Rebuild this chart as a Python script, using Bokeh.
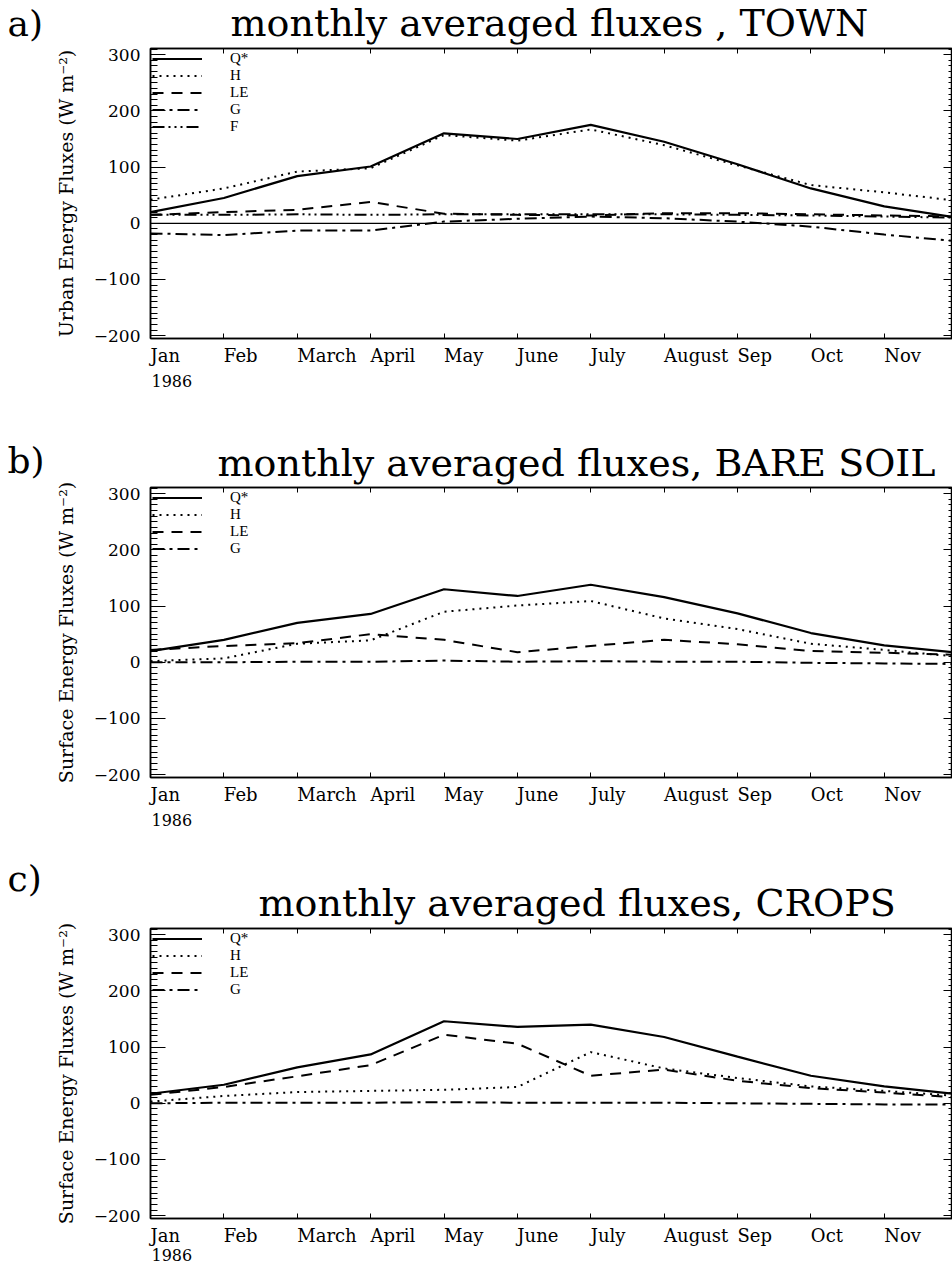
from bokeh.plotting import figure
from bokeh.models import (Range1d, LinearAxis, FixedTicker, SingleIntervalTicker,
                          Legend, LegendItem, Span, Title)
from bokeh.layouts import column
from bokeh.embed import file_html
from bokeh.resources import INLINE

# ---------------- data ----------------
month_index = [0, 1, 2, 3, 4, 5, 6, 7, 8, 9, 10, 11]
month_tick_labels = ["Jan", "Feb", "March", "April", "May", "June", "July",
                     "August", "Sep", "Oct", "Nov"]
year_label = "1986"
y_tick_values = [-200, -100, 0, 100, 200, 300]
y_tick_labels = ["\u2212200", "\u2212100", "0", "100", "200", "300"]
y_minor_values = list(range(-200, 311, 10))

# a) TOWN
town_names = ["Q*", "H", "LE", "G", "F"]
town_qstar = [20, 45, 84, 101, 160, 150, 175, 145, 105, 62, 30, 10]
town_h = [42, 62, 92, 98, 157, 147, 167, 139, 103, 68, 55, 40]
town_le = [15, 20, 24, 38, 17, 15, 14, 18, 18, 16, 14, 12]
town_g = [-18, -21, -13, -13, 3, 8, 12, 9, 3, -6, -20, -32]
town_f = [15, 15, 16, 15, 16, 16, 16, 16, 15, 14, 12, 10]

# b) BARE SOIL
soil_names = ["Q*", "H", "LE", "G"]
soil_qstar = [20, 40, 70, 86, 130, 118, 138, 116, 87, 52, 30, 17]
soil_h = [2, 7, 33, 39, 90, 101, 109, 78, 59, 33, 22, 10]
soil_le = [22, 29, 34, 50, 40, 18, 29, 40, 32, 20, 17, 13]
soil_g = [0, 0, 1, 1, 3, 1, 2, 1, 1, -1, -2, -3]

# c) CROPS
crop_names = ["Q*", "H", "LE", "G"]
crop_qstar = [17, 33, 64, 87, 146, 136, 140, 118, 83, 49, 30, 16]
crop_h = [3, 13, 20, 22, 24, 29, 91, 62, 45, 30, 22, 13]
crop_le = [15, 29, 48, 68, 122, 106, 49, 60, 40, 27, 19, 10]
crop_g = [0, 1, 1, 1, 2, 1, 1, 1, 0, -1, -2, -2]

panel_tags = ["a)", "b)", "c)"]
panel_titles = ["monthly averaged fluxes , TOWN",
                "monthly averaged fluxes, BARE SOIL",
                "monthly averaged fluxes, CROPS"]
panel_ylabels = ["Urban Energy Fluxes (W m\u207b\u00b2)",
                 "Surface Energy Fluxes (W m\u207b\u00b2)",
                 "Surface Energy Fluxes (W m\u207b\u00b2)"]

# ---------------- styles ----------------
LINE_STYLE = {
    "Q*": ("solid", 2.2),
    "H": ("2 5", 2.0),
    "LE": ("11 8", 2.0),
    "G": ("12 5 3 5", 2.0),
    "F": ("12 4 2 4 2 4 2 4", 2.0),
}
SERIF = "DejaVu Serif"


def tick_only_axis(minor_positions, tick_len):
    return LinearAxis(ticker=FixedTicker(ticks=[], minor_ticks=minor_positions),
                      major_tick_in=0, major_tick_out=0,
                      minor_tick_in=tick_len, minor_tick_out=0,
                      major_label_standoff=0,
                      axis_line_width=1.5, axis_line_color="black")


def build(idx, names, values, height, top, bottom, year_standoff,
          title_offset, title_standoff, tag_standoff, zero_line):
    p = figure(width=952, height=height, output_backend="svg", toolbar_location=None,
               x_range=Range1d(0, 10.93), y_range=Range1d(-205, 311),
               min_border_left=150, min_border_right=0,
               min_border_top=top, min_border_bottom=bottom)
    p.xgrid.visible = False
    p.ygrid.visible = False
    p.outline_line_color = "black"
    p.outline_line_width = 1.5
    p.background_fill_color = "white"
    p.border_fill_color = "white"

    nticks = len(month_tick_labels)
    # bottom axis: month labels, left-aligned at the ticks
    xa = p.below[0]
    xa.ticker = FixedTicker(ticks=month_index[:nticks], minor_ticks=[])
    xa.major_label_overrides = {i: s for i, s in zip(month_index, month_tick_labels)}
    xa.major_label_orientation = -0.0001
    xa.major_tick_in = 5
    xa.major_tick_out = 0
    xa.minor_tick_in = 0
    xa.minor_tick_out = 0
    xa.major_label_text_font = SERIF
    xa.major_label_text_font_size = "18px"
    xa.major_label_text_color = "black"
    xa.major_label_standoff = 17
    xa.axis_line_width = 1.5
    xa.axis_line_color = "black"

    # the year under "Jan"
    p.add_layout(Title(text=year_label, align="left", offset=1,
                       vertical_align="top", standoff=year_standoff,
                       text_font=SERIF, text_font_size="16px", text_font_style="normal",
                       text_color="black"), "below")

    # left axis
    ya = p.left[0]
    ya.ticker = SingleIntervalTicker(interval=100, num_minor_ticks=10)
    ya.major_label_overrides = {v: l for v, l in zip(y_tick_values, y_tick_labels)}
    ya.major_tick_in = 15
    ya.major_tick_out = 0
    ya.minor_tick_in = 7
    ya.minor_tick_out = 0
    ya.major_label_text_font = SERIF
    ya.major_label_text_font_size = "17px"
    ya.major_label_text_color = "black"
    ya.major_label_standoff = 10
    ya.axis_line_width = 1.5
    ya.axis_line_color = "black"
    ya.axis_label = panel_ylabels[idx]
    ya.axis_label_text_font = SERIF
    ya.axis_label_text_font_size = "19px"
    ya.axis_label_text_font_style = "normal"
    ya.axis_label_text_color = "black"
    ya.axis_label_standoff = 14

    # right side ticks (no labels)
    p.add_layout(tick_only_axis(y_minor_values, 4), "right")
    p.add_layout(tick_only_axis(y_tick_values, 9), "right")
    # top ticks (no labels)
    p.add_layout(tick_only_axis(month_index[:nticks], 5), "above")

    # title and panel tag (zero-height rows, placed by their standoff)
    p.add_layout(Title(text=panel_titles[idx], align="left", offset=title_offset,
                       vertical_align="top", standoff=title_standoff,
                       text_font=SERIF, text_font_size="38px", text_font_style="normal",
                       text_color="black"), "above")
    p.add_layout(Title(text=panel_tags[idx], align="left", offset=-143,
                       vertical_align="top", standoff=tag_standoff,
                       text_font=SERIF, text_font_size="36px", text_font_style="normal",
                       text_color="black"), "above")

    if zero_line:
        p.add_layout(Span(location=0, dimension="width", line_color="black", line_width=1.2))

    items = []
    for name, vals in zip(names, values):
        dash, w = LINE_STYLE[name]
        r = p.line(month_index, vals, line_color="black", line_width=w, line_dash=dash)
        items.append(LegendItem(label=name, renderers=[r]))
    leg = Legend(items=items, location="top_left", margin=0, padding=2, spacing=0,
                 glyph_width=50, glyph_height=17, label_height=17, label_standoff=28,
                 label_text_font="Liberation Serif", label_text_font_size="15px",
                 label_text_color="black",
                 border_line_alpha=0, background_fill_alpha=0)
    p.add_layout(leg)
    return p


pa = build(0, town_names, [town_qstar, town_h, town_le, town_g, town_f],
           400, 48, 62, -9, 80, -96, -91, True)
pb = build(1, soil_names, [soil_qstar, soil_h, soil_le, soil_g],
           439, 87, 62, -9, 67, -93, -95, False)
pc = build(2, crop_names, [crop_qstar, crop_h, crop_le, crop_g],
           429, 89, 50, -21, 108, -95, -141, False)

layout = column(pa, pb, pc, spacing=0)
open("out.html", "w").write(file_html(layout, INLINE))
